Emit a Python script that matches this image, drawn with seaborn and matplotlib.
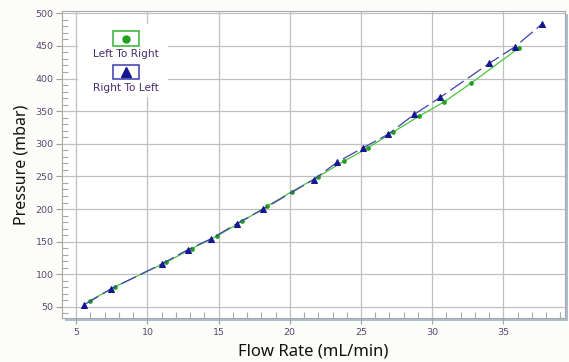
import numpy as np
import pandas as pd
import matplotlib
matplotlib.use("Agg")
import matplotlib.pyplot as plt
import seaborn as sns
from matplotlib.patches import Rectangle
from matplotlib.ticker import MultipleLocator

# ---- data ----
ltr_flow = [5.98, 7.69, 11.32, 13.12, 14.88, 16.64, 18.39, 20.15, 21.95,
            23.80, 25.48, 27.28, 29.09, 30.86, 32.72, 36.13]
ltr_pressure = [59.6, 80.6, 118.4, 139.5, 158.4, 181.0, 204.3, 226.8, 249.0,
                273.2, 293.7, 318.3, 342.4, 364.4, 392.7, 447.4]

rtl_flow = [5.56, 7.44, 11.02, 12.82, 14.47, 16.29, 18.11, 21.67, 23.35,
            25.13, 26.89, 28.74, 30.56, 34.02, 35.83, 37.70]
rtl_pressure = [53.4, 77.6, 116.0, 137.5, 154.4, 177.8, 199.5, 245.1, 272.1,
                293.7, 314.3, 345.0, 371.1, 423.4, 448.9, 483.3]

x_ticks = [5, 10, 15, 20, 25, 30, 35]
y_ticks = [50, 100, 150, 200, 250, 300, 350, 400, 450, 500]
series_labels = ["Left To Right", "Right To Left"]
x_label = "Flow Rate (mL/min)"
y_label = "Pressure (mbar)"

green_line = "#4cc43e"
green_mark = "#1fa01f"
blue_line = "#4040b0"
blue_mark = "#16168f"
tick_color = "#5a4870"

sns.set_theme(style="white")
plt.rcParams["font.family"] = ["DejaVu Sans"]

W, H = 569, 362
fig = plt.figure(figsize=(W / 100, H / 100), dpi=100, facecolor="#fcfcf8")
L, R, T, B = 62, 565, 11, 318
ax = fig.add_axes([L / W, 1 - B / H, (R - L) / W, (B - T) / H])
ax.set_facecolor("white")

# shadow behind plot area
shadow = Rectangle(((L + 3) / W, 1 - (B + 3) / H), (R - L) / W, (B - T) / H,
                   transform=fig.transFigure, facecolor="#adbdd0",
                   edgecolor="none", zorder=-1)
fig.patches.append(shadow)

df_ltr = pd.DataFrame({"flow": ltr_flow, "pressure": ltr_pressure})
df_rtl = pd.DataFrame({"flow": rtl_flow, "pressure": rtl_pressure})

sns.lineplot(data=df_ltr, x="flow", y="pressure", ax=ax, sort=False,
             color=green_line, lw=0.9, marker="o", ms=2.6,
             markerfacecolor=green_mark, markeredgecolor=green_mark,
             legend=False, zorder=4)
sns.lineplot(data=df_rtl, x="flow", y="pressure", ax=ax, sort=False,
             color=blue_line, lw=0.9, linestyle=(0, (13, 4)), marker="^",
             ms=3.8, markerfacecolor=blue_mark, markeredgecolor=blue_mark,
             legend=False, zorder=5)

ax.set_xlim(4.0, 39.33)
ax.set_ylim(33.0, 503.5)
ax.set_xticks(x_ticks)
ax.set_yticks(y_ticks)
ax.xaxis.set_minor_locator(MultipleLocator(1))
ax.yaxis.set_minor_locator(MultipleLocator(10))
ax.set_axisbelow(True)
ax.grid(True, which="major", color="#c0c0c0", lw=0.9)

ax.tick_params(axis="both", which="major", direction="out", length=4,
               width=0.8, color="#a0a0a0", labelsize=6.8,
               labelcolor=tick_color, pad=2)
ax.tick_params(axis="both", which="minor", direction="in", length=4,
               width=0.8, color="#a8a8a8")
ax.tick_params(axis="x", which="major", pad=3)
ax.tick_params(left=True, bottom=True, which="both")

for s in ax.spines.values():
    s.set_color("#a8a8a8")
    s.set_linewidth(0.8)

ax.set_xlabel(x_label, fontsize=12, family=["Noto Sans", "DejaVu Sans"],
              color="#111111", labelpad=5)
ax.set_ylabel(y_label, fontsize=11.5, family=["Noto Sans", "DejaVu Sans"],
              color="#111111", labelpad=4)

# ---- custom legend (symbol above text) ----
def fx(px):
    return (px - L) / (R - L)

def fy(py):
    return (B - py) / (B - T)

ax.add_patch(Rectangle((fx(78), fy(97)), fx(168) - fx(78), fy(24) - fy(97),
                       transform=ax.transAxes, facecolor="white",
                       edgecolor="none", zorder=6))
ax.add_patch(Rectangle((fx(112.5), fy(45.5)), fx(138.5) - fx(112.5),
                       fy(31.5) - fy(45.5), transform=ax.transAxes,
                       facecolor="white", edgecolor="#2fb52f", lw=1.1,
                       zorder=7))
ax.add_patch(Rectangle((fx(113), fy(79.3)), fx(138.7) - fx(113),
                       fy(65) - fy(79.3), transform=ax.transAxes,
                       facecolor="white", edgecolor="#3a3aae", lw=1.1,
                       zorder=7))
ax.plot([fx(125.5)], [fy(38.6)], marker="o", ms=5, color=green_mark,
        transform=ax.transAxes, zorder=8, clip_on=False)
ax.plot([fx(125.8)], [fy(72.0)], marker="^", ms=7, color=blue_mark,
        transform=ax.transAxes, zorder=8, clip_on=False)
ax.text(fx(125.7), fy(54.3), series_labels[0], transform=ax.transAxes,
        ha="center", va="center", fontsize=7.6, color="#4a2c6c", zorder=8)
ax.text(fx(125.7), fy(87.7), series_labels[1], transform=ax.transAxes,
        ha="center", va="center", fontsize=7.6, color="#4a2c6c", zorder=8)

fig.savefig("out.png", dpi=100, facecolor=fig.get_facecolor())
